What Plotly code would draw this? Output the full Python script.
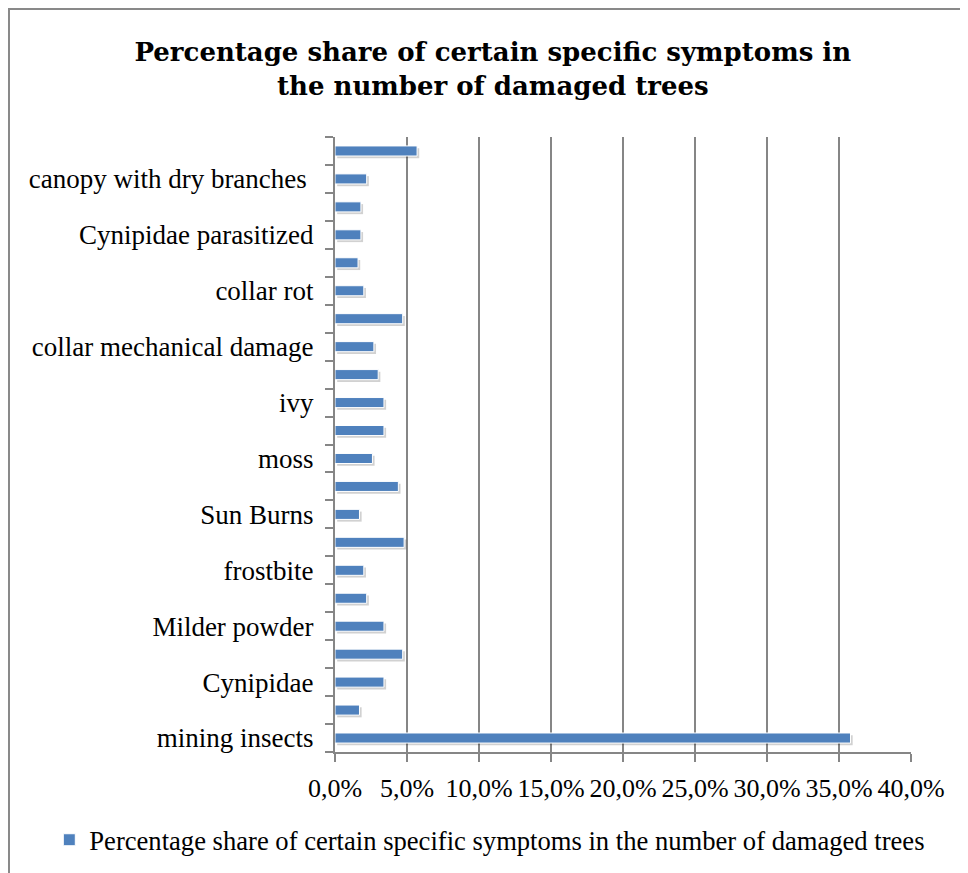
import plotly.graph_objects as go

categories = [
    "mining insects", "cat02", "Cynipidae", "cat04", "Milder powder", "cat06",
    "frostbite", "cat08", "Sun Burns", "cat10", "moss", "cat12", "ivy", "cat14",
    "collar mechanical damage", "cat16", "collar rot", "cat18",
    "Cynipidae parasitized", "cat20", "canopy with dry branches ", "cat22",
]
tick_labels = [c if not c.startswith("cat") else "" for c in categories]
values = [35.8, 1.7, 3.4, 4.7, 3.4, 2.2, 2.0, 4.8, 1.7, 4.4, 2.6, 3.4, 3.4, 3.0,
          2.7, 4.7, 2.0, 1.6, 1.8, 1.8, 2.2, 5.7]
series_name = "Percentage share of certain specific symptoms in the number of damaged trees"
title_text = "Percentage share of certain specific symptoms in<br>the number of damaged trees"

fig = go.Figure()
# soft drop shadow behind bars
fig.add_trace(go.Bar(
    y=categories, x=values, orientation="h", base=0.15, showlegend=False,
    marker=dict(color="rgba(0,0,0,0.18)", line=dict(width=0)),
    width=0.36, offset=-0.26, hoverinfo="skip",
))
fig.add_trace(go.Bar(
    y=categories, x=values, orientation="h", name=series_name,
    marker=dict(color="#4F81BD", line=dict(color="white", width=1)),
    width=0.36, offset=-0.18, showlegend=True,
))

fig.update_layout(
    width=960, height=865,
    barmode="overlay",
    paper_bgcolor="white", plot_bgcolor="white",
    margin=dict(l=327, r=57, t=129, b=121, autoexpand=False),
    separators=",.",
    title=dict(text=title_text, x=0.505, xanchor="center", y=0.9385, yanchor="middle",
               font=dict(family="DejaVu Serif", size=26, color="black", weight="bold")),
    font=dict(family="Liberation Serif", size=27, color="black"),
    xaxis=dict(range=[0, 40], dtick=5, tick0=0, tickformat=".1f", ticksuffix="%",
               showgrid=True, gridcolor="#868686", gridwidth=2,
               showline=True, linecolor="#868686", linewidth=2,
               ticks="outside", ticklen=8, tickcolor="#868686", tickwidth=2,
               zeroline=False, fixedrange=True, ticklabelstandoff=4,
               tickfont=dict(family="Liberation Serif", size=26)),
    yaxis=dict(type="category", categoryorder="array", categoryarray=categories,
               tickmode="array", tickvals=categories, ticktext=tick_labels,
               tickson="boundaries", ticks="outside", ticklen=8, tickcolor="#868686",
               tickwidth=2, showline=True, linecolor="#868686", linewidth=2,
               showgrid=False, range=[-0.5, 21.5], ticklabelstandoff=14,
               tickfont=dict(family="Liberation Serif", size=27)),
    legend=dict(orientation="h", x=-0.496, xanchor="left", y=-0.143, yanchor="middle",
                font=dict(family="Liberation Serif", size=26.6), itemwidth=30,
                bgcolor="rgba(0,0,0,0)"),
    shapes=[dict(type="rect", xref="paper", yref="paper",
                 x0=-0.566, x1=1.2, y0=-0.3, y1=1.208,
                 line=dict(color="#898989", width=2), fillcolor="rgba(0,0,0,0)",
                 layer="below")],
)

fig.write_html("out.html")
